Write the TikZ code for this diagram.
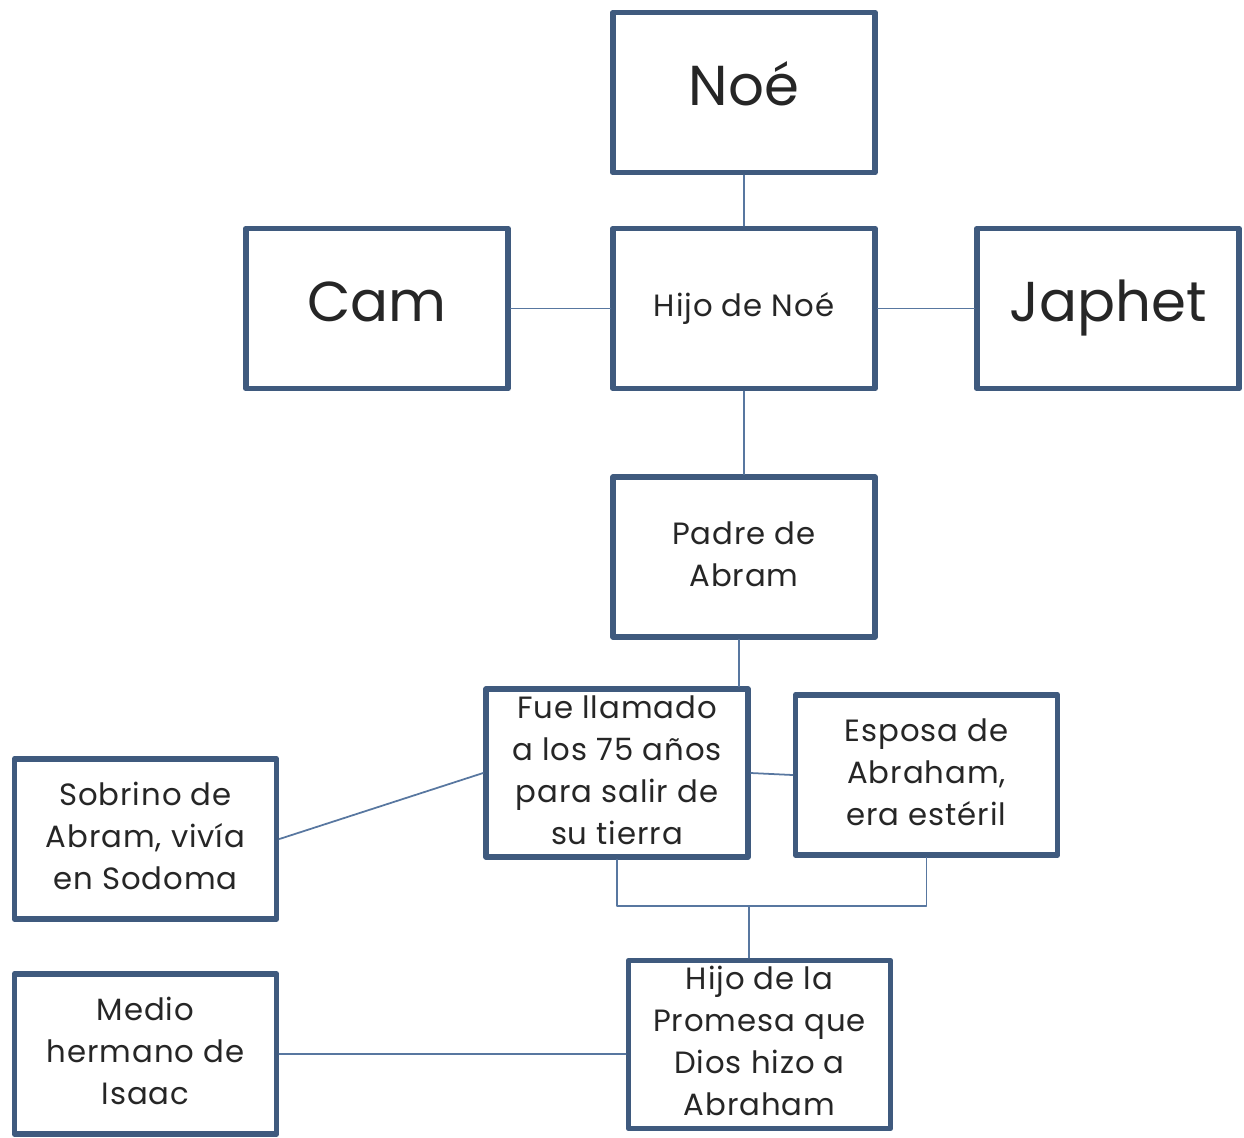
\documentclass[tikz,border=0pt]{standalone}
\usepackage{fontspec}
\setmainfont{Poppins}
\definecolor{borde}{HTML}{3F5A7E}
\definecolor{linea}{HTML}{5877A0}
\definecolor{texto}{HTML}{262626}
\newcommand{\lineas}[2][2.3pt]{\raisebox{#1}{\begin{tabular}{@{}c@{}}#2\end{tabular}}}
\begin{document}
\begin{tikzpicture}[x=0.02cm,y=-0.02cm,line join=round,line cap=round,text=texto]
	\tikzset{
		caja/.style={draw=borde,line width=3.3pt,fill=white,minimum width=5.24cm,minimum height=3.2cm,align=center,inner sep=0pt},
		grande/.style={font=\fontsize{32}{38}\selectfont},
		media/.style={font=\fontsize{17.5}{23.9}\selectfont\addfontfeature{LetterSpace=3}},
		noi/.style={draw=linea,line width=1pt}
	}
	\useasboundingbox (0,0) rectangle (1244,1137);
	% cac hop
	\node[caja,grande] (noe) at (744,92.5) {\lineas[5pt]{Noé}};
	\node[caja,media] (hijo) at (744,308.5) {\lineas[3pt]{Hijo de Noé}};
	\node[caja,grande] (cam) at (377,308.5) {\lineas[5pt]{Cam}};
	\node[caja,grande] (japhet) at (1108,308.5) {\lineas[5pt]{Japhet}};
	\node[caja,media] (padre) at (744,557) {\lineas{Padre de\\Abram}};
	\node[caja,media] (fue) at (617,773) {\lineas[8pt]{Fue llamado\\a los 75 años\\para salir de\\su tierra}};
	\node[caja,media] (esposa) at (926.5,775) {\lineas{Esposa de\\Abraham,\\era estéril}};
	\node[caja,media] (sobrino) at (145.5,839) {\lineas{Sobrino de\\Abram, vivía\\en Sodoma}};
	\node[caja,media] (medio) at (145.5,1054) {\lineas[8pt]{Medio\\hermano de\\Isaac}};
	\node[caja,media] (promesa) at (759.5,1044.5) {\lineas[8.5pt]{Hijo de la\\Promesa que\\Dios hizo a\\Abraham}};
	\coordinate (union) at (749,906);
	% cac duong noi
	\draw[noi] (noe) -- (hijo);
	\draw[noi] (cam) -- (hijo);
	\draw[noi] (hijo) -- (japhet);
	\draw[noi] (hijo) -- (padre);
	\draw[noi] ([xshift=-2.8pt]padre.south) -- ([xshift=-2.8pt]padre.south |- fue.north);
	\draw[noi] (fue.east) -- (esposa.west);
	\draw[noi] (sobrino.east) -- (fue.west);
	\draw[noi] (fue.south) -- (fue.south |- union) -- (esposa.south |- union) -- (esposa.south);
	\draw[noi] (union) -- (union |- promesa.north);
	\draw[noi] (medio.east) -- (medio.east -| promesa.west);
\end{tikzpicture}
\end{document}
